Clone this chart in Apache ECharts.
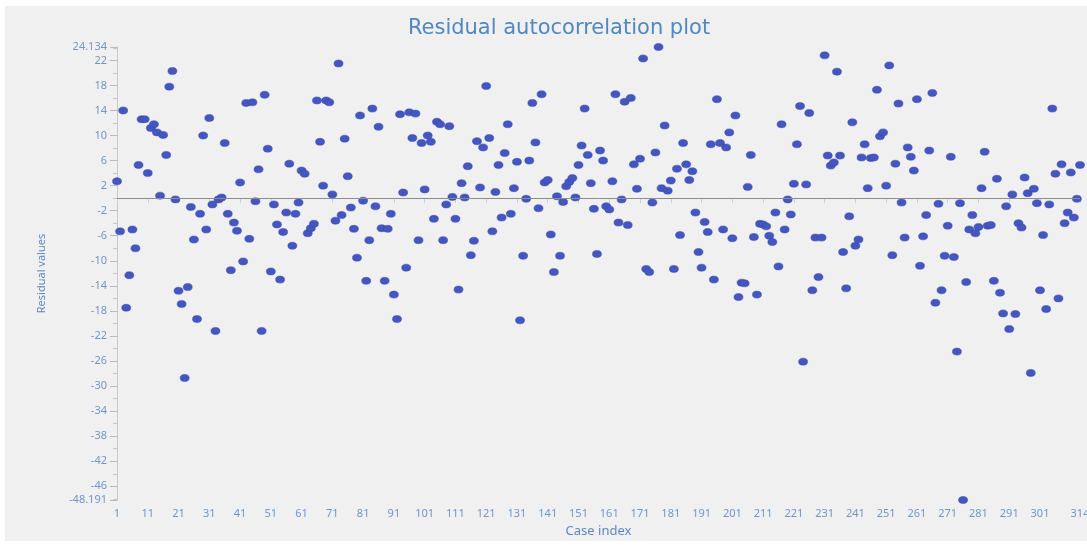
<!DOCTYPE html>
<html>
<head>
<meta charset="utf-8">
<title>Residual autocorrelation plot</title>
<script src="https://cdn.jsdelivr.net/npm/echarts@6/dist/echarts.min.js"></script>
<style>
  html, body { margin: 0; padding: 0; background: #ffffff; }
  #frame { width: 1087px; height: 547px; box-sizing: border-box; padding: 6px 0 6px 5px; }
  #chart { width: 1082px; height: 535px; background: #f0f0f0; }
</style>
</head>
<body>
<div id="frame"><div id="chart"></div></div>
<script>
// residual per case, case index = position + 1
var residuals = [
  2.7, -5.3, 14, -17.5, -12.3, -5, -8, 5.3, 12.6, 12.6, 4, 11.2, 11.8, 10.5, 0.4, 10.1,
  6.9, 17.8, 20.3, -0.2, -14.8, -16.9, -28.7, -14.2, -1.4, -6.6, -19.3, -2.5, 10, -5, 12.8, -1,
  -21.2, -0.2, 0.1, 8.8, -2.5, -11.5, -3.9, -5.2, 2.5, -10.1, 15.2, -6.5, 15.3, -0.5, 4.6, -21.2,
  16.5, 7.9, -11.7, -1, -4.2, -13, -5.4, -2.3, 5.5, -7.6, -2.5, -0.7, 4.4, 3.9, -5.6,
  -4.8, -4.1, 15.6, 9, 2, 15.6, 15.3, 0.6, -3.6, 21.5, -2.7, 9.5, 3.5, -1.5, -4.9, -9.5,
  13.2, -0.4, -13.2, -6.7, 14.3, -1.3, 11.4, -4.8, -13.2, -4.9, -2.5, -15.4, -19.3, 13.4, 0.9,
  -11.1, 13.7, 9.6, 13.5, -6.7, 8.8, 1.4, 10, 9, -3.3, 12.2, 11.8, -6.7, -1, 11.5, 0.2,
  -3.3, -14.6, 2.4, 0.1, 5.1, -9.1, -6.8, 9.1, 1.7, 8.1, 17.9, 9.6, -5.3, 1,
  5.3, -3.1, 7.2, 11.8, -2.5, 1.6, 5.8, -19.5, -9.2, -0.1, 6, 15.2, 8.9, -1.6, 16.6, 2.5,
  2.9, -5.8, -11.8, 0.3, -9.2, -0.6, 1.9, 2.6, 3.2, 0.1, 5.3, 8.4, 14.3, 6.9, 2.4, -1.7,
  -8.9, 7.6, 6, -1.3, -1.8, 2.7, 16.6, -3.9, -0.2, 15.4, -4.3, 16, 5.4, 1.5, 6.3, 22.3,
  -11.3, -11.8, -0.7, 7.3, 24.134, 1.6, 11.6, 1.2, 2.8, -11.3, 4.7, -5.9, 8.8, 5.4,
  2.9, 4.3, -2.3, -8.6, -11.1, -3.8, -5.4, 8.6, -13, 15.8, 8.8, -5, 8.1, 10.5, -6.4, 13.2,
  -15.8, -13.5, -13.6, 1.8, 6.9, -6.2, -15.4, -4.1, -4.2, -4.5, -6, -7, -2.3, -10.9, 11.8,
  -5, -0.2, -2.6, 2.3, 8.6, 14.7, -26.1, 2.2, 13.6, -14.7, -6.3, -12.6, -6.3, 22.8, 6.8,
  5.2, 5.7, 20.2, 6.8, -8.6, -14.4, -2.9, 12.1, -7.6, -6.6, 6.5, 8.6, 1.6, 6.4,
  6.5, 17.3, 9.9, 10.5, 2, 21.2, -9.1, 5.5, 15.1, -0.7, -6.3, 8.1, 6.6, 4.4, 15.8, -10.8,
  -6.1, -2.7, 7.6, 16.8, -16.7, -0.9, -14.7, -9.2, -4.4, 6.6, -9.4, -24.5, -0.8, -48.191,
  -13.4, -5, -2.7, -5.6, -4.6, 1.6,
  7.4, -4.4, -4.3, -13.2, 3.1, -15.1, -18.4, -1.3, -20.9, 0.6, -18.5, -4, -4.7, 3.3, 0.8,
  -27.9, 1.5, -0.8, -14.7, -5.9, -17.7, -1, 14.3, 3.9, -16, 5.4, -4, -2.3, 4.1, -3.1, -0.1, 5.3
];

var yLabelTicks = [-48.191, -46, -42, -38, -34, -30, -26, -22, -18, -14, -10, -6, -2,
  2, 6, 10, 14, 18, 22, 24.134];
var yMinorTicks = [-48, -44, -40, -36, -32, -28, -24, -20, -16, -12, -8, -4, 0,
  4, 8, 12, 16, 20, 24];
var xLabelTicks = [1, 11, 21, 31, 41, 51, 61, 71, 81, 91, 101, 111, 121, 131, 141, 151,
  161, 171, 181, 191, 201, 211, 221, 231, 241, 251, 261, 271, 281, 291, 301, 314];

var labelColor = '#7096c8';
var fontFam = 'Noto Sans';

var points = residuals.map(function (v, i) { return [i + 1, v]; });

var myChart = echarts.init(document.getElementById('chart'));
var option = {
  animation: false,
  title: {
    text: 'Residual autocorrelation plot',
    left: 549,
    textAlign: 'center',
    top: 7,
    textStyle: { fontSize: 21, fontWeight: 'normal', color: '#5088c2', fontFamily: 'DejaVu Sans' }
  },
  grid: { left: 112, right: 7, top: 41, bottom: 41, outerBoundsMode: 'none' },
  xAxis: {
    type: 'value',
    min: 1,
    max: 314,
    name: 'Case index',
    nameLocation: 'middle',
    nameGap: 25,
    nameTextStyle: { fontSize: 13, color: '#5f88c0', fontFamily: fontFam },
    splitLine: { show: false },
    axisLine: { show: true, lineStyle: { color: '#c4d3e4' } },
    axisTick: { show: true, length: 5, customValues: xLabelTicks, lineStyle: { color: '#c4d3e4' } },
    axisLabel: {
      customValues: xLabelTicks,
      color: labelColor, fontSize: 11, fontFamily: fontFam, margin: 8
    }
  },
  yAxis: [
    {
      type: 'value',
      position: 'left',
      min: -48.191,
      max: 24.134,
      name: 'Residual values',
      nameLocation: 'middle',
      nameGap: 70,
      nameRotate: 90,
      nameTextStyle: { fontSize: 11, color: '#5f88c0', fontFamily: fontFam },
      splitLine: { show: false },
      axisLine: { show: true, lineStyle: { color: '#c8c8c8' } },
      axisTick: { show: true, length: 7, customValues: yLabelTicks, lineStyle: { color: '#b8b8b8' } },
      axisLabel: {
        customValues: yLabelTicks,
        color: labelColor, fontSize: 11, fontFamily: fontFam, margin: 10,
        formatter: function (v) { return String(Math.round(v * 1000) / 1000); }
      }
    },
    {
      type: 'value',
      position: 'left',
      min: -48.191,
      max: 24.134,
      splitLine: { show: false },
      axisLine: { show: false },
      axisLabel: { show: false },
      axisTick: { show: true, length: 4, customValues: yMinorTicks, lineStyle: { color: '#c8c8c8' } }
    }
  ],
  series: [
    {
      type: 'scatter',
      data: points,
      symbol: 'circle',
      symbolSize: [9, 7],
      clip: false,
      itemStyle: { color: '#4456c0', opacity: 1, borderColor: '#3646aa', borderWidth: 0.5 },
      markLine: {
        silent: true,
        symbol: ['none', 'none'],
        label: { show: false },
        lineStyle: { color: '#8c8c8c', width: 1, type: 'solid' },
        data: [{ yAxis: 0 }]
      }
    }
  ]
};
myChart.setOption(option);
window.addEventListener('resize', function () {
  myChart.resize();
});
</script>
</body>
</html>
